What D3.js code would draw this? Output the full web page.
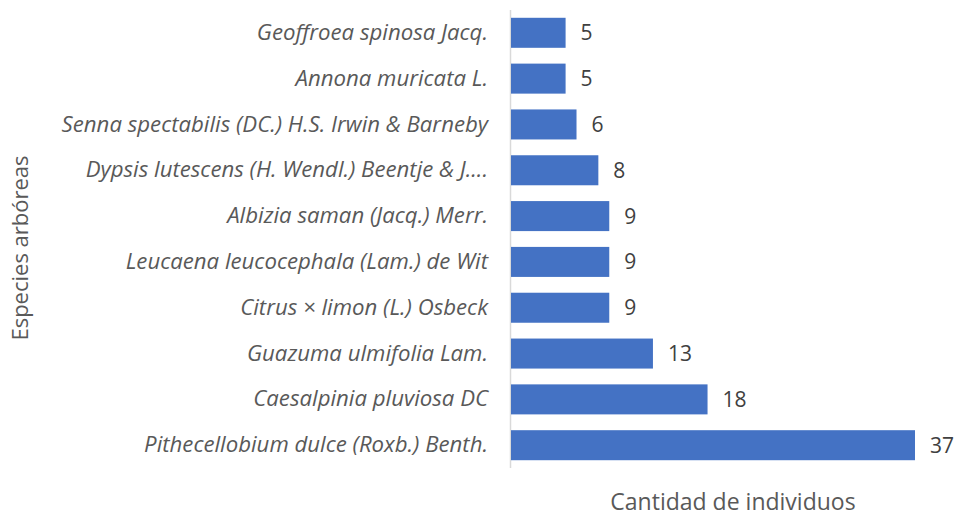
<!DOCTYPE html>
<html><head><meta charset="utf-8">
<script src="https://cdn.jsdelivr.net/npm/d3@7"></script>
<style>body{margin:0;background:#fff}svg{display:block}</style>
</head><body><svg id="c" width="956" height="516"></svg>
<script>
const species = ["Geoffroea spinosa Jacq.","Annona muricata L.","Senna spectabilis (DC.) H.S. Irwin & Barneby","Dypsis lutescens (H. Wendl.) Beentje & J....","Albizia saman (Jacq.) Merr.","Leucaena leucocephala (Lam.) de Wit","Citrus × limon (L.) Osbeck","Guazuma ulmifolia Lam.","Caesalpinia pluviosa DC","Pithecellobium dulce (Roxb.) Benth."];
const counts = [5,5,6,8,9,9,9,13,18,37];
const xTitle = "Cantidad de individuos";
const yTitle = "Especies arbóreas";

const svg = d3.select("#c");
const font = "'Open Sans', sans-serif";
const x = d3.scaleLinear().domain([0,37]).range([511,915]);
const y = d3.scaleBand().domain(species).range([10,468]).paddingInner(0.345).paddingOuter(0.17);

svg.append("line").attr("x1",510.5).attr("x2",510.5).attr("y1",10).attr("y2",468)
  .attr("stroke","#d9d9d9").attr("stroke-width",1.5);

svg.selectAll("rect.bar").data(species).join("rect").attr("class","bar")
  .attr("x",x(0)).attr("y",d=>y(d)).attr("height",y.bandwidth())
  .attr("width",(d,i)=>x(counts[i])-x(0)).attr("fill","#4472C4");

const yAxis = d3.axisLeft(y).tickSize(0).tickPadding(23);
const g = svg.append("g").attr("transform","translate(511,0)").call(yAxis);
g.select(".domain").remove();
g.selectAll("text").attr("font-family",font).attr("font-size",22.2).attr("font-style","italic").attr("fill","#595959");

svg.selectAll("text.val").data(species).join("text").attr("class","val")
  .attr("x",(d,i)=>x(counts[i])+15).attr("y",d=>y(d)+y.bandwidth()/2).attr("dy","0.36em")
  .attr("font-family",font).attr("font-size",21).attr("fill","#404040").text((d,i)=>counts[i]);

svg.append("text").attr("x",733).attr("y",510).attr("text-anchor","middle")
  .attr("font-family",font).attr("font-size",23).attr("fill","#595959").text(xTitle);
svg.append("text").attr("transform","translate(28,248) rotate(-90)").attr("text-anchor","middle")
  .attr("font-family",font).attr("font-size",22).attr("fill","#595959").text(yTitle);
</script></body></html>
